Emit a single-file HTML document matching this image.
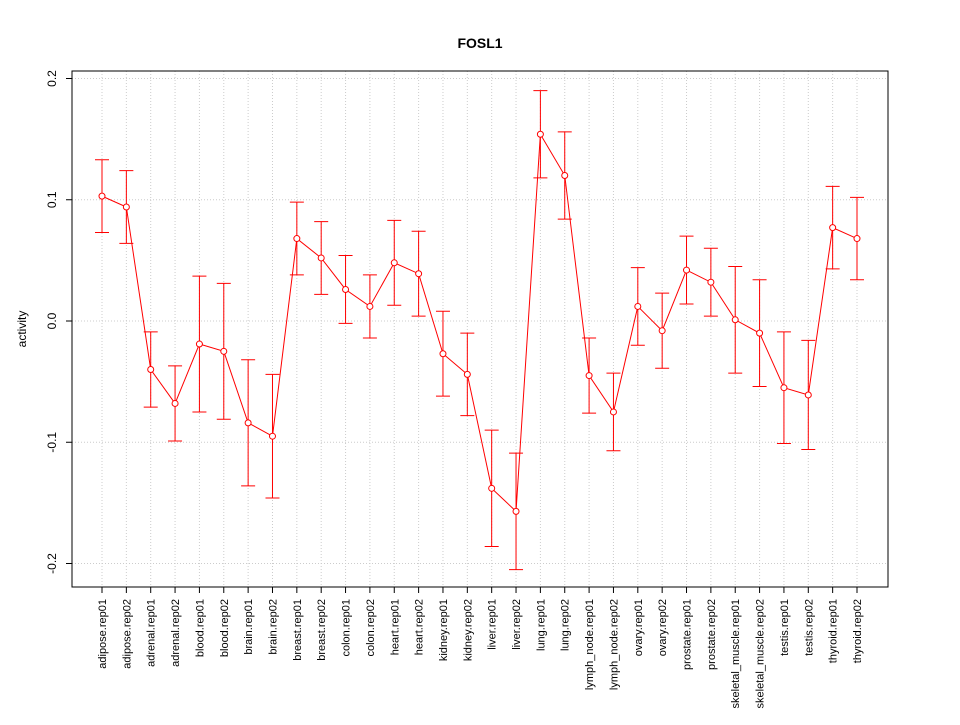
<!DOCTYPE html>
<html><head><meta charset="utf-8"><style>
body{margin:0;background:#fff}
svg{font-family:"Liberation Sans",Arial,sans-serif}
</style></head><body>
<svg id="chart" width="960" height="720" xmlns="http://www.w3.org/2000/svg">
<text x="480" y="48" text-anchor="middle" font-size="14" font-weight="bold">FOSL1</text>
<text transform="translate(26,329) rotate(-90)" text-anchor="middle" font-size="12">activity</text>
<g id="grid"></g><g id="axes"></g><g id="marks"></g>
</svg>
<script>
const categories=["adipose.rep01","adipose.rep02","adrenal.rep01","adrenal.rep02","blood.rep01","blood.rep02","brain.rep01","brain.rep02","breast.rep01","breast.rep02","colon.rep01","colon.rep02","heart.rep01","heart.rep02","kidney.rep01","kidney.rep02","liver.rep01","liver.rep02","lung.rep01","lung.rep02","lymph_node.rep01","lymph_node.rep02","ovary.rep01","ovary.rep02","prostate.rep01","prostate.rep02","skeletal_muscle.rep01","skeletal_muscle.rep02","testis.rep01","testis.rep02","thyroid.rep01","thyroid.rep02"];
const values=[0.103,0.094,-0.040,-0.068,-0.019,-0.025,-0.084,-0.095,0.068,0.052,0.026,0.012,0.048,0.039,-0.027,-0.044,-0.138,-0.157,0.154,0.120,-0.045,-0.075,0.012,-0.008,0.042,0.032,0.001,-0.010,-0.055,-0.061,0.077,0.068];
const errors=[0.030,0.030,0.031,0.031,0.056,0.056,0.052,0.051,0.030,0.030,0.028,0.026,0.035,0.035,0.035,0.034,0.048,0.048,0.036,0.036,0.031,0.032,0.032,0.031,0.028,0.028,0.044,0.044,0.046,0.045,0.034,0.034];
const yTicks=[-0.2,-0.1,0.0,0.1,0.2];
const yTickLabels=["-0.2","-0.1","0.0","0.1","0.2"];
const NS="http://www.w3.org/2000/svg";
const L=72,R=888,T=71,B=587;
const x=i=>102+i*(857-102)/(categories.length-1);
const y=v=>321-v*1212.5;
function mk(tag,attrs,parent){const e=document.createElementNS(NS,tag);for(const k in attrs)e.setAttribute(k,attrs[k]);document.getElementById(parent).appendChild(e);return e;}
// grid
categories.forEach((c,i)=>{const g=mk('line',{x1:x(i),x2:x(i),y1:T,y2:B,stroke:'#ccc','stroke-dasharray':'1,2'},'grid');

});
yTicks.forEach(v=>{const g=mk('line',{x1:L,x2:R,y1:y(v),y2:y(v),stroke:'#ccc','stroke-dasharray':'1,2'},'grid');

});
// frame
const fr=mk('rect',{x:L,y:T,width:R-L,height:B-T,fill:'none',stroke:'#000'},'axes');


// y axis
yTicks.forEach((v,i)=>{mk('line',{x1:L-6,x2:L,y1:y(v),y2:y(v),stroke:'#000'},'axes');
const t=mk('text',{transform:`translate(${L-16},${y(v)}) rotate(-90)`,'text-anchor':'middle','font-size':'12'},'axes');t.textContent=yTickLabels[i];

});
// x axis
categories.forEach((c,i)=>{mk('line',{x1:x(i),x2:x(i),y1:B,y2:B+6,stroke:'#000'},'axes');
const t=mk('text',{transform:`translate(${x(i)+4},${B+12}) rotate(-90)`,'text-anchor':'end','font-size':'11'},'axes');t.textContent=c;

});
// line
const ln=mk('polyline',{points:values.map((v,i)=>x(i)+','+y(v)).join(' '),fill:'none',stroke:'#f00','stroke-width':1},'marks');


values.forEach((v,i)=>{const cx=x(i),hi=y(v+errors[i]),lo=y(v-errors[i]);
const eb=mk('path',{d:`M${cx},${hi}V${lo}M${cx-7},${hi}H${cx+7}M${cx-7},${lo}H${cx+7}`,stroke:'#f00',fill:'none'},'marks');


const p=mk('circle',{cx:cx,cy:y(v),r:3,fill:'#fff',stroke:'#f00'},'marks');

});
</script>
</body></html>
